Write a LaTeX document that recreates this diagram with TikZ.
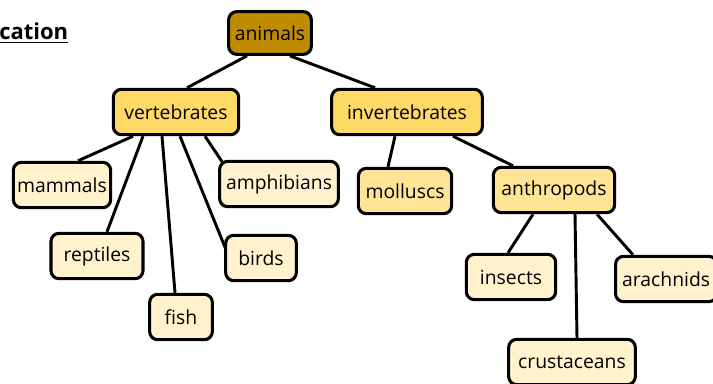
\documentclass[tikz,border=0pt]{standalone}
\usepackage{fontspec}
\setmainfont{Open Sans}
\usepackage{tikz}
\usetikzlibrary{calc,backgrounds}
\usepackage{xcolor}
\definecolor{rootcolor}{RGB}{191,140,0}
\definecolor{groupcolor}{RGB}{255,217,102}
\definecolor{subcolor}{RGB}{255,228,150}
\definecolor{leafcolor}{RGB}{255,242,204}

\begin{document}
\begin{tikzpicture}[x=0.75pt, y=-0.75pt,
    every node/.style={font=\fontsize{14.5}{16}\selectfont},
    box/.style={draw,line width=2.3pt,rounded corners=6pt,minimum height=34pt,
                inner sep=2pt,align=center},
    root/.style={box,fill=rootcolor},
    group/.style={box,fill=groupcolor},
    sub/.style={box,fill=subcolor},
    leaf/.style={box,fill=leafcolor},
    link/.style={line width=2.2pt}]

  \useasboundingbox (0,0) rectangle (713,383);

  % Title (cut off at the left edge)
  \node[anchor=west,inner sep=0pt,font=\fontsize{16.5}{18}\selectfont\bfseries]
    (title) at (-1,33) {\underline{cation}};

  % Top of the tree
  \node[root,minimum width=62pt,minimum height=32pt] (animals) at (270,33) {animals};

  % Second level
  \node[group,minimum width=94pt] (vert)   at (176,112) {vertebrates};
  \node[group,minimum width=113pt] (invert) at (407,112) {invertebrates};

  % Vertebrates
  \node[leaf,minimum width=73pt] (mammals) at (62,185)  {mammals};
  \node[leaf,minimum width=89pt] (amph)    at (279,184) {amphibians};
  \node[leaf,minimum width=69pt] (reptiles) at (97,256) {reptiles};
  \node[leaf,minimum width=53pt] (birds)   at (261,258) {birds};
  \node[leaf,minimum width=47pt] (fish)    at (181,317) {fish};

  % Invertebrates
  \node[sub,minimum width=70pt] (molluscs)   at (405,191) {molluscs};
  \node[sub,minimum width=91pt] (anthropods) at (554,190) {anthropods};

  % Anthropods
  \node[leaf,inner xsep=5pt,anchor=west] (arach) at (614,279) {arachnids};
  \node[leaf,minimum width=67pt] (insects) at (511,277) {insects};
  \node[leaf,minimum width=95pt] (crust)   at (572,362) {crustaceans};

  % Connectors behind the boxes
  \begin{scope}[on background layer]
    \draw[link] ($(animals.south)+(-23,0)$) -- ($(vert.north)+(11,0)$);
    \draw[link] ($(animals.south)+(20,0)$)  -- ($(invert.north)+(-32,0)$);

    \draw[link] ($(vert.south)+(-43,0)$) -- ($(mammals.north)+(16,0)$);
    \draw[link] ($(vert.south)+(-33,0)$) -- ($(reptiles.north)+(10,0)$);
    \draw[link] ($(vert.south)+(-14,0)$) -- ($(fish.north)+(-6,0)$);
    \draw[link] ($(vert.south)+(4,0)$)   -- ($(birds.west)+(2,-8)$);
    \draw[link] ($(vert.south)+(29,0)$)  -- ($(amph.north west)+(4,2)$);

    \draw[link] ($(invert.south)+(-12,0)$) -- ($(molluscs.north)+(-17,0)$);
    \draw[link] ($(invert.south)+(46,0)$)  -- ($(anthropods.north)+(-41,0)$);

    \draw[link] ($(anthropods.south)+(-21,0)$) -- ($(insects.north)+(-3,0)$);
    \draw[link] ($(anthropods.south)+(21,0)$)  -- ($(crust.north)+(5,0)$);
    \draw[link] ($(anthropods.south)+(43,0)$)  -- ($(arach.north west)+(19,0)$);
  \end{scope}

\end{tikzpicture}
\end{document}
